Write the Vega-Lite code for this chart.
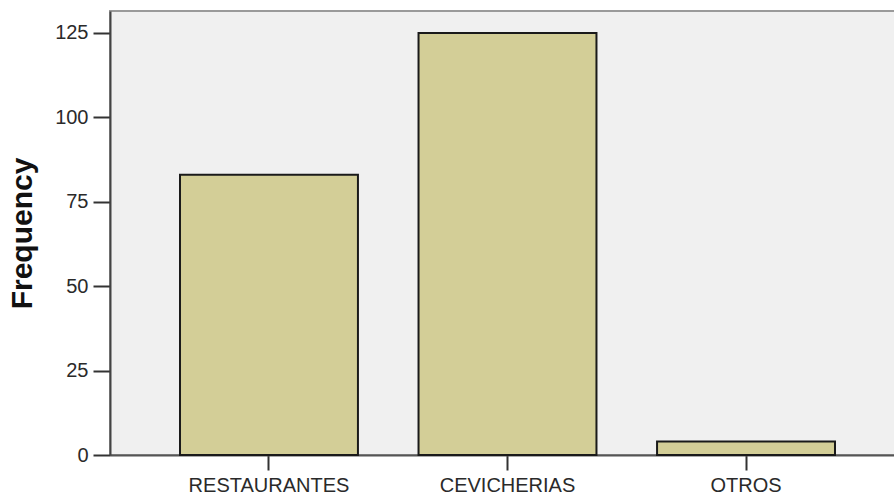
{
  "$schema": "https://vega.github.io/schema/vega-lite/v6.json",
  "width": 795,
  "height": 444,
  "autosize": {"type": "none"},
  "padding": {"left": 110, "top": 11, "right": 0, "bottom": 45},
  "background": "white",
  "config": {
    "view": {"fill": "#F0F0F0", "stroke": "#9a9a9a", "strokeWidth": 2},
    "font": "Liberation Sans"
  },
  "data": {
    "values": [
      {"category": "RESTAURANTES", "frequency": 83},
      {"category": "CEVICHERIAS", "frequency": 125},
      {"category": "OTROS", "frequency": 4}
    ]
  },
  "mark": {"type": "bar", "fill": "#D3CE97", "stroke": "#1a1a1a", "strokeWidth": 2},
  "encoding": {
    "x": {
      "field": "category",
      "type": "nominal",
      "sort": null,
      "scale": {"paddingInner": 0.254, "paddingOuter": 0.2935},
      "axis": {
        "title": null,
        "labelAngle": 0,
        "labelFontSize": 20,
        "labelColor": "#2a2a2a",
        "labelPadding": 5,
        "tickSize": 15,
        "tickWidth": 2,
        "tickColor": "#333",
        "domainColor": "#555",
        "domainWidth": 2
      }
    },
    "y": {
      "field": "frequency",
      "type": "quantitative",
      "scale": {"domain": [0, 131.5], "nice": false, "zero": true},
      "axis": {
        "title": "Frequency",
        "titleFontSize": 30,
        "titleFontWeight": "bold",
        "titleColor": "#111",
        "titleAngle": -90,
        "titleX": -88,
        "titleY": 222,
        "titleAlign": "center",
        "titleBaseline": "middle",
        "values": [0, 25, 50, 75, 100, 125],
        "grid": false,
        "labelFontSize": 20,
        "labelColor": "#2a2a2a",
        "labelPadding": 5,
        "tickSize": 17,
        "tickWidth": 2,
        "tickColor": "#333",
        "domainColor": "#444",
        "domainWidth": 2
      }
    }
  }
}
